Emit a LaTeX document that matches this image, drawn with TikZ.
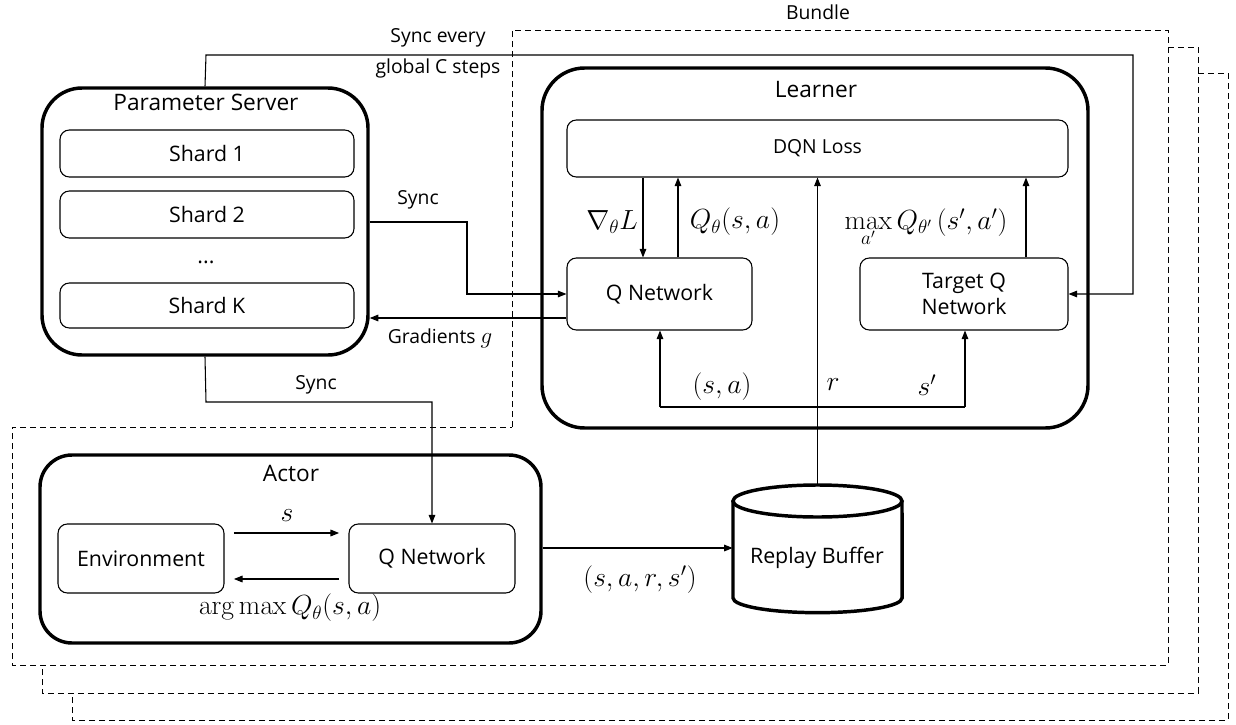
\documentclass[tikz,border=0pt]{standalone}
\usepackage[no-math]{fontspec}
\setmainfont{Open Sans}
\usetikzlibrary{arrows.meta,fit}
\begin{document}
\begin{tikzpicture}[x=0.75pt,y=-0.75pt,
  big/.style={draw, line width=2.6pt, inner sep=0pt},
  box/.style={draw, line width=0.8pt, rounded corners=7pt, inner sep=0pt},
  conn/.style={line width=0.8pt, -{Triangle[length=6.5pt,width=5pt]}},
  plain/.style={line width=0.8pt},
  ttl/.style={font=\fontsize{17}{20}\selectfont, inner sep=0pt},
  btx/.style={font=\fontsize{16}{19}\selectfont, inner sep=0pt},
  txt/.style={font=\fontsize{14.5}{17}\selectfont, inner sep=0pt},
  mth/.style={font=\fontsize{20}{23}\selectfont, inner sep=0pt},
  bund/.style={dash pattern=on 4.5pt off 3pt, line width=0.7pt}]
\useasboundingbox (0,0) rectangle (1236,725);

% bundle outlines
\draw[bund] (512,427) -- (512,30) -- (1168,30) -- (1168,665) -- (12,665) -- (12,427) -- cycle;
\draw[bund] (1168,47) -- (1198,47) -- (1198,693) -- (42,693) -- (42,665);
\draw[bund] (1198,73) -- (1228,73) -- (1228,720) -- (72,720) -- (72,693);
\node[txt] (bundle) at (818,12) {Bundle};

% parameter server
\node[big, rounded corners=30pt, fit={(42,88) (368,355)}] (ps) {};
\node[ttl] (pst) at (206,102) {Parameter Server};
\node[box, fit={(60,130) (354,177)}] (s1) {};
\node[btx] (s1t) at (s1.center) {Shard 1};
\node[box, fit={(60,191) (354,238)}] (s2) {};
\node[btx] (s2t) at (s2.center) {Shard 2};
\node[btx] (dots) at (206,262) {...};
\node[box, fit={(60,283) (354,328)}] (sk) {};
\node[btx] (skt) at (sk.center) {Shard K};

% learner
\node[big, rounded corners=32pt, fit={(542,68) (1088,428)}] (lr) {};
\node[ttl] (lrt) at (816,90) {Learner};
\node[box, fit={(567,120) (1068,177)}] (loss) {};
\node[txt] (losst) at (loss.center) {DQN Loss};
\node[box, fit={(567,258) (752,330)}] (qn) {};
\node[btx] (qnt) at (qn.center) {Q Network};
\node[box, fit={(860,258) (1068,330)}] (tq) {};
\node[btx, align=center] (tqt) at (tq.center) {Target Q\\Network};

% actor
\node[big, rounded corners=24pt, fit={(40,455) (541,643)}] (ac) {};
\node[ttl] (act) at (291,473) {Actor};
\node[box, fit={(58,524) (224,593)}] (env) {};
\node[btx] (envt) at (env.center) {Environment};
\node[box, fit={(349,524) (515,593)}] (aq) {};
\node[btx] (aqt) at (aq.center) {Q Network};

% replay buffer
\node[inner sep=0pt, fit={(733,485) (902,613)}] (rb) {};
\draw[line width=2.6pt] (733,501) -- (733,598)
  arc[start angle=180, end angle=360, x radius=63.4pt, y radius=11pt] -- (902,501);
\draw[line width=2.6pt] (817.5,501) ellipse [x radius=63.4pt, y radius=12pt];
\node[btx] (rbt) at (817,558) {Replay Buffer};

% sync every C steps
\coordinate (syA) at (206,55);
\coordinate (syB) at (1133,55);
\draw[conn] (ps.north) -- (syA) -- (syB) |- (tq.east);
\node[txt, align=center] (syl) at (438,53) {Sync every\\[6pt]global C steps};

% sync to learner
\coordinate (sy2) at (467,222);
\draw[conn] (ps.east |- sy2) -- (sy2) |- (qn.west);
\node[txt] (sy2l) at (418,200) {Sync};
\draw[conn] (qn.west |- 0,318) -- (ps.east |- 0,318);
\node[txt] (grl) at (440,338) {Gradients \fontsize{19}{21}\selectfont$g$};

% sync to actor
\coordinate (sy3) at (206,402);
\draw[conn] (ps.south) -- (sy3) -| (aq.north);
\node[txt] (sy3l) at (316,385) {Sync};

% learner arrows
\draw[conn] (loss.south -| 643,0) -- (qn.north -| 643,0);
\node[mth] (gl) at (612,222) {$\nabla_\theta L$};
\draw[conn] (qn.north -| 678,0) -- (loss.south -| 678,0);
\node[mth] (ql) at (735,222) {$Q_\theta(s,a)$};
\draw[conn] (tq.north -| 1026,0) -- (loss.south -| 1026,0);
\node[mth] (ml) at (926,227) {$\max\limits_{a'} Q_{\theta'}\,(s',a')$};
\draw[conn] (rb.north) -- (loss.south -| rb.north);
\node[mth] (rl) at (833,385) {$r$};
\coordinate (sa) at (660,407);
\coordinate (sp) at (965,407);
\draw[plain] (sa) -- (sp);
\draw[conn] (sa) -- (qn.south -| sa);
\draw[conn] (sp) -- (tq.south -| sp);
\node[mth] (sal) at (722,387) {$(s,a)$};
\node[mth] (spl) at (927,385) {$s'$};

% actor arrows
\draw[conn, shorten <=7pt, shorten >=7pt] (env.east |- 0,533) -- (aq.west |- 0,533);
\node[mth] (sl) at (287,516) {$s$};
\draw[conn, shorten <=7pt, shorten >=7pt] (aq.west |- 0,579) -- (env.east |- 0,579);
\node[mth] (agl) at (290,608) {$\arg\max Q_\theta(s,a)$};
\draw[conn] (ac.east |- 0,548) -- (rb.west |- 0,548);
\node[mth] (trl) at (640,580) {$(s,a,r,s')$};
\end{tikzpicture}
\end{document}
